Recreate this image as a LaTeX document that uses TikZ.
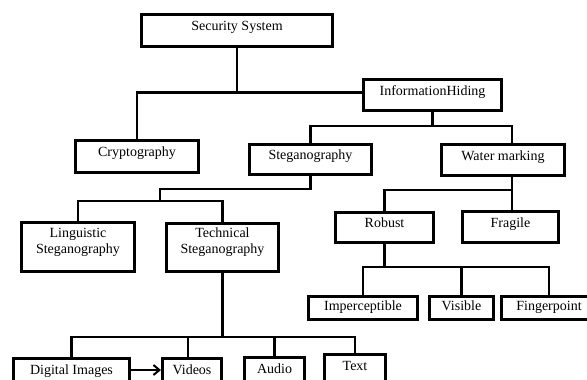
\documentclass[tikz,border=0pt]{standalone}
\usepackage{fontspec}
\setmainfont{Liberation Serif}
\usetikzlibrary{positioning, arrows.meta}
\usetikzlibrary{calc}

\begin{document}
\begin{tikzpicture}[
    x=1pt, y=-1pt,
    box/.style={rectangle, draw, line width=3pt, align=center, inner sep=0pt,
      font=\fontsize{14}{16}\selectfont, text height=10pt, text depth=10pt},
    twoline/.style={box, text height=26pt, text depth=14pt},
    low/.style={box, text depth=5pt},
    link/.style={line width=2.6pt}
  ]
  \useasboundingbox (0,0) rectangle (587,380);
  \clip (0,0) rectangle (587,380);

  % Top level
  \node[box, minimum width=191pt, minimum height=32pt] (sec) at (237,30.5) {Security System};

  % Second level
  \node[box, minimum width=123pt, minimum height=32pt] (crypto) at (137,156.5) {Cryptography};
  \node[box, minimum width=138pt, minimum height=31pt] (info) at (432.5,95) {InformationHiding};

  % Third level - under InformationHiding
  \node[box, minimum width=122pt, minimum height=30pt] (steg) at (310.5,159.5) {Steganography};
  \node[box, minimum width=123pt, minimum height=31pt] (water) at (503,160) {Water marking};

  % Fourth level - under Steganography
  \node[twoline, minimum width=113pt, minimum height=49pt] (ling) at (78,247) {Linguistic\\Steganography};
  \node[twoline, minimum width=112pt, minimum height=48pt] (tech) at (222.5,247.5) {Technical\\Steganography};

  % Fourth level - under Water marking
  \node[box, minimum width=98pt, minimum height=30pt] (robust) at (384.5,227.5) {Robust};
  \node[box, minimum width=96pt, minimum height=31pt] (fragile) at (510.5,227) {Fragile};

  % Under Robust
  \node[low, minimum width=109pt, minimum height=23pt] (imper) at (363,308) {Imperceptible};
  \node[low, minimum width=64pt, minimum height=23pt] (visible) at (461.5,308) {Visible};
  \node[low, minimum width=95pt, minimum height=23pt] (finger) at (549,308) {Fingerpoint};

  % Under Technical Steganography
  \node[box, minimum width=116pt, minimum height=32pt] (digital) at (71.5,374.5) {Digital Images};
  \node[box, minimum width=59pt, minimum height=32pt] (videos) at (192,374.5) {Videos};
  \node[box, minimum width=60pt, minimum height=32pt] (audio) at (274.5,373.5) {Audio};
  \node[box, minimum width=61pt, minimum height=32pt] (text) at (355,370.5) {Text};

  % Bus levels
  \coordinate (hub1) at ([yshift=2.5pt]info.west);
  \coordinate (bus2) at (0,126);
  \coordinate (bus3) at (0,189);
  \coordinate (bus4) at (0,201);
  \coordinate (bus5) at (0,190);
  \coordinate (bus6) at (0,267);
  \coordinate (bus7) at (0,337);
  \coordinate (split3) at (160,189);
  \coordinate (wm) at ([xshift=9pt]water.north);
  \coordinate (wb) at ([xshift=9pt]water.south);

  % Lines
  \draw[link] (sec.south) -- (sec.south |- hub1);
  \draw[link] (crypto.north) |- (hub1);
  \draw[link] (info.south) -- (info.south |- bus2);
  \draw[link] (steg.north) |- (wm |- bus2) -- (wm);
  \draw[link] (steg.south) |- (split3) -- (split3 |- bus4);
  \draw[link] (ling.north) |- (tech.north |- bus4) -- (tech.north);
  \draw[link] (wb) -- (wb |- fragile.north);
  \draw[link] (robust.north) |- (wb |- bus5);
  \draw[link] (robust.south) -- (robust.south |- bus6);
  \draw[link] (imper.north) |- (finger.north |- bus6) -- (finger.north);
  \draw[link] (visible.north) -- (visible.north |- bus6);
  \draw[link] (tech.south) -- (tech.south |- bus7);
  \draw[link] (digital.north) |- (text.north |- bus7) -- (text.north);
  \draw[link] ([xshift=-4pt]videos.north) -- ([xshift=-4pt]videos.north |- bus7);
  \draw[link] (audio.north) -- (audio.north |- bus7);

  % Arrow
  \draw[line width=2pt, -{Straight Barb[length=6pt, width=10pt]}] ([yshift=4.5pt]digital.east) -- ([yshift=4.5pt]digital.east -| videos.west);
\end{tikzpicture}
\end{document}
